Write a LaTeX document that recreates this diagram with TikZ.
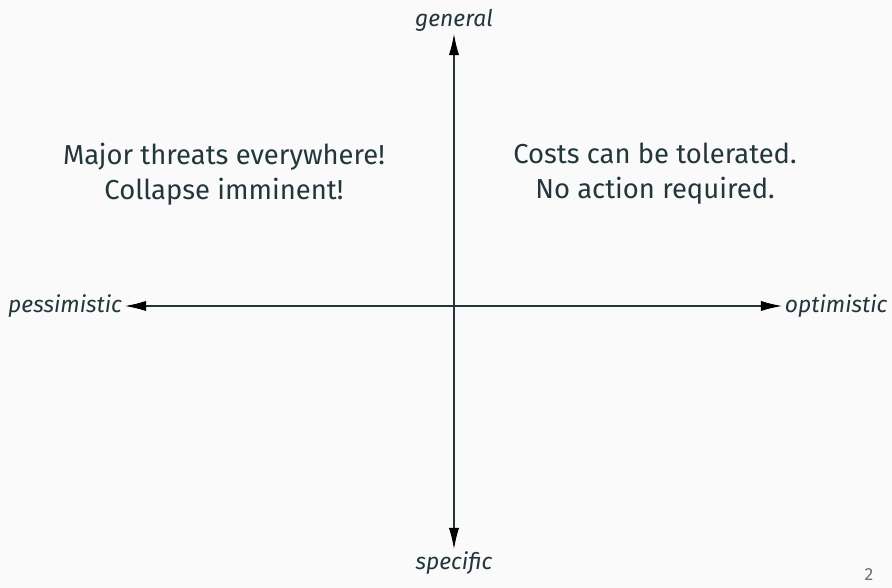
\documentclass[tikz,border=0pt]{standalone}
\usepackage{fontspec}
\setmainfont{Fira Sans}
\definecolor{darkteal}{HTML}{23373B}
\definecolor{slidebg}{HTML}{FAFAFA}
\usetikzlibrary{arrows.meta}

\begin{document}
\begin{tikzpicture}[
      axis/.style={draw=darkteal, line width=0.6pt, -{Latex[length=12pt, width=5.8pt, color=black]}},
      pole/.style={font=\fontsize{13}{15}\selectfont\itshape, text=darkteal, inner sep=1.5pt},
      quad/.style={font=\fontsize{15.6}{19.8}\selectfont, text=darkteal, align=center}
    ]
    \fill[slidebg] (-9.08,-5.64) rectangle (8.76,6.12);
    \useasboundingbox (-9.08,-5.64) rectangle (8.76,6.12);
    \coordinate (o) at (0,0);
    % axis ends
    \node[pole, anchor=south] (gen) at (0,5.44) {general};
    \node[pole, anchor=north] (spec) at (0,-4.86) {specific};
    \node[pole, anchor=east] (pess) at (-6.58,0) {pessimistic};
    \node[pole, anchor=west] (opt) at (6.56,0) {optimistic};
    \draw[axis] (o) -- (gen);
    \draw[axis] (o) -- (spec);
    \draw[axis] (o) -- (pess);
    \draw[axis] (o) -- (opt);
    % quadrant texts
    \node[quad] (threat) at (-4.6,2.64) {Major threats everywhere!\\Collapse imminent!};
    \node[quad] (cost) at (4.02,2.64) {Costs can be tolerated.\\No action required.};
    % page number
    \node[font=\fontsize{10}{11}\selectfont, text=darkteal!70, anchor=south, inner sep=0pt] (pg) at (8.3,-5.5) {2};
  \end{tikzpicture}
\end{document}
